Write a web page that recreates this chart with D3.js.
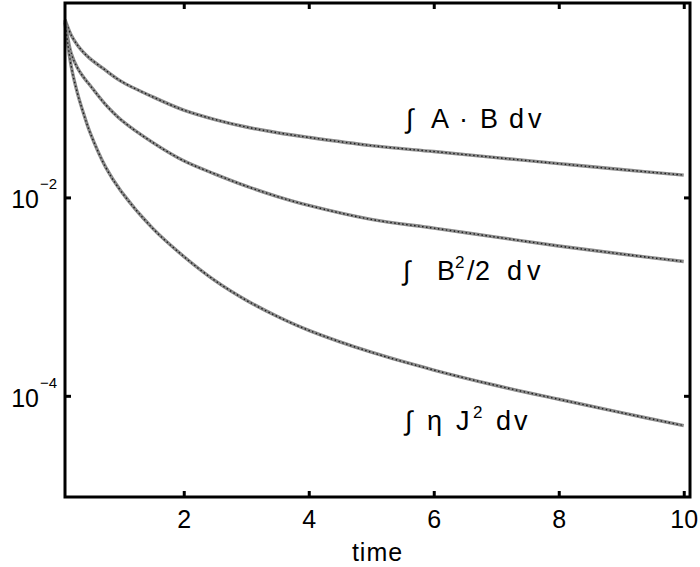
<!DOCTYPE html>
<html>
<head>
<meta charset="utf-8">
<script src="https://cdn.jsdelivr.net/npm/d3@7"></script>
<style>
  html, body { margin: 0; padding: 0; background: #fff; }
  svg { display: block; }
  text { font-family: "Liberation Sans", Arial, Helvetica, sans-serif; fill: #000; }
</style>
</head>
<body>
<svg id="chart" width="700" height="567"></svg>
<script>
// ---- data ----
const time = [0.1, 0.2, 0.3, 0.4, 0.5, 0.75, 1, 1.5, 2, 2.5, 3, 3.5, 4, 5, 6, 7, 8, 9, 10];
const helicity = [0.62, 0.431, 0.343, 0.288, 0.251, 0.191, 0.148, 0.1035, 0.0759, 0.061, 0.0513, 0.0449, 0.0403, 0.0333, 0.0290, 0.0252, 0.0219, 0.0191, 0.0168];
const magEnergy = [0.60, 0.282, 0.202, 0.162, 0.135, 0.0861, 0.0603, 0.0359, 0.0234, 0.0172, 0.0130, 0.0102, 0.0083, 0.0060, 0.0049, 0.00398, 0.00324, 0.00269, 0.00226];
const dissipation = [0.58, 0.209, 0.112, 0.0692, 0.0452, 0.0202, 0.01148, 0.0049, 0.00254, 0.00145, 0.00092, 0.00063, 0.000457, 0.000275, 0.000182, 0.000127, 0.0000923, 0.0000676, 0.0000501];
const xTicks = [2, 4, 6, 8, 10];
const yTicks = [1e-2, 1e-4];
const yTickExp = ["\u22122", "\u22124"];
const xLabel = "time";

(function () {
const svg = d3.select("#chart");
const pLeft = 65, pRight = 690, pTop = 3, pBottom = 497;

const x = d3.scaleLinear().domain([0.1, 10.1]).range([pLeft, pRight]);
const y = d3.scaleLog().domain([Math.pow(10, -5.02), Math.pow(10, -0.04)]).range([pBottom, pTop]);

const series = [helicity, magEnergy, dissipation];
const line = d3.line().x((d, i) => x(time[i])).y(d => y(d)).curve(d3.curveCatmullRom.alpha(0.5));

const g = svg.append("g");
series.forEach(s => {
  g.append("path").datum(s).attr("d", line)
    .attr("fill", "none").attr("stroke", "#8c8c8c").attr("stroke-width", 3.4);
  g.append("path").datum(s).attr("d", line)
    .attr("fill", "none").attr("stroke", "#1e1e1e").attr("stroke-width", 1.4)
    .attr("stroke-dasharray", "1.5 2.5");
});

// axes (ticks pointing inward)
const tickLen = 6;
const axB = d3.axisBottom(x).tickValues(xTicks).tickSize(-tickLen).tickPadding(13).tickFormat(d3.format("d"));
const axT = d3.axisTop(x).tickValues(xTicks).tickSize(-tickLen).tickFormat("");
const axL = d3.axisLeft(y).tickValues(yTicks).tickSize(-tickLen).tickFormat("");
const axR = d3.axisRight(y).tickValues(yTicks).tickSize(-tickLen).tickFormat("");

function styleAxis(sel) {
  sel.select(".domain").remove();
  sel.selectAll(".tick line").attr("stroke", "#000").attr("stroke-width", 3);
}
const gB = svg.append("g").attr("transform", `translate(0,${pBottom})`).call(axB).call(styleAxis);
gB.selectAll(".tick text").attr("font-size", 25).attr("font-family", "Liberation Sans, Arial, sans-serif")
  .attr("fill", "#000").attr("dy", "0.71em");
svg.append("g").attr("transform", `translate(0,${pTop})`).call(axT).call(styleAxis);
svg.append("g").attr("transform", `translate(${pLeft},0)`).call(axL).call(styleAxis);
svg.append("g").attr("transform", `translate(${pRight},0)`).call(axR).call(styleAxis);

// y tick labels with superscripts
yTicks.forEach((v, i) => {
  svg.append("text").attr("x", 39).attr("y", y(v) + 11)
    .attr("text-anchor", "end").attr("font-size", 25).text("10");
  svg.append("text").attr("x", 40).attr("y", y(v) - 8)
    .attr("font-size", 15).text(yTickExp[i]);
});

// frame
svg.append("rect").attr("x", pLeft).attr("y", pTop).attr("width", pRight - pLeft).attr("height", pBottom - pTop)
  .attr("fill", "none").attr("stroke", "#000").attr("stroke-width", 3);

// x label
svg.append("text").attr("x", (pLeft + pRight) / 2).attr("y", 561).attr("text-anchor", "middle")
  .attr("font-size", 25).attr("letter-spacing", 1).text(xLabel);

// curve annotations: pieces placed along the baseline
function annot(yp, parts) {
  const t = svg.append("text").attr("y", yp).attr("font-size", 27);
  parts.forEach(p => {
    const ts = t.append("tspan").attr("x", p.x).text(p.t);
    if (p.sup) ts.attr("font-size", 17).attr("y", yp - 12);
    else ts.attr("y", yp);
  });
}
annot(128, [{t: "\u222B", x: 406}, {t: "A", x: 431}, {t: "\u00B7", x: 459}, {t: "B", x: 480}, {t: "d", x: 509}, {t: "v", x: 528}]);
annot(280, [{t: "\u222B", x: 403}, {t: "B", x: 437}, {t: "2", x: 455, sup: true}, {t: "/", x: 467}, {t: "2", x: 475}, {t: "d", x: 507}, {t: "v", x: 527}]);
annot(430, [{t: "\u222B", x: 405}, {t: "\u03B7", x: 427}, {t: "J", x: 456}, {t: "2", x: 473, sup: true}, {t: "d", x: 496}, {t: "v", x: 514}]);
})();
</script>
</body>
</html>
